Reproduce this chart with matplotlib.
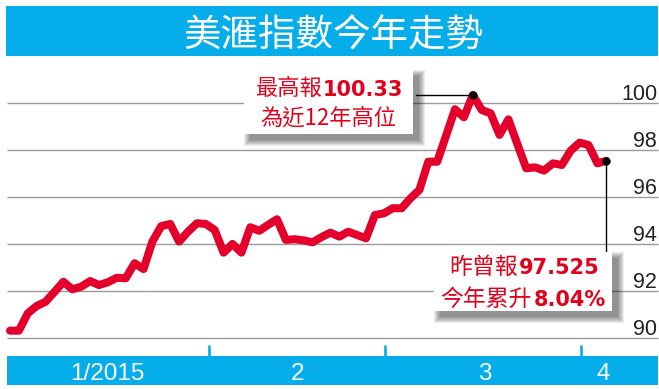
import matplotlib
matplotlib.use("Agg")
import matplotlib.pyplot as plt
from matplotlib.patches import Rectangle
import numpy as np

# US dollar index, trading days from 31 Dec 2014 to early April 2015
dxy = [90.30, 90.30, 91.04, 91.35, 91.53, 91.95, 92.38, 92.06, 92.17, 92.41,
       92.24, 92.36, 92.55, 92.53, 93.17, 92.92, 94.09, 94.75, 94.84, 94.09,
       94.51, 94.87, 94.84, 94.58, 93.62, 93.99, 93.62, 94.70, 94.55, 94.80,
       95.04, 94.16, 94.19, 94.14, 94.06, 94.28, 94.47, 94.30, 94.51, 94.37,
       94.23, 95.22, 95.29, 95.51, 95.51, 95.93, 96.29, 97.49, 97.49, 98.60,
       99.72, 99.38, 100.33, 99.69, 99.55, 98.63, 99.29, 98.25, 97.21, 97.25,
       97.11, 97.42, 97.35, 97.96, 98.30, 98.20, 97.42, 97.525]
y_ticks = [90, 92, 94, 96, 98, 100]
month_labels = ["1/2015", "2", "3", "4"]
title = "美滙指數今年走勢"
high_text = ["最高報", "100.33", "為近12年高位"]
last_text = ["昨曾報", "97.525", "今年累升", "8.04%"]

W, H = 659, 389
BLUE = "#05aeeb"
RED = "#e3001b"
LINE_RED = "#e4002b"
CJK = ["Noto Sans CJK TC", "DejaVu Sans"]
NUM = ["Liberation Sans", "DejaVu Sans"]

# pixel calibration of the picture
X0, DX = 10, 8.9
Y90, DY = 337.7, 23.5


def fx(px):
    return px / W


def fy(py):
    return 1 - py / H


def xd(px):
    return (px - X0) / DX


def yd(py):
    return 90 + (Y90 - py) / DY


fig = plt.figure(figsize=(W / 100, H / 100), dpi=100)
fig.patch.set_facecolor("white")
ax = fig.add_axes([0, 0, 1, 1])
ax.set_xlim(xd(0), xd(W))
ax.set_ylim(yd(H), yd(0))
ax.axis("off")


def rect(x0, y0, x1, y1, **kw):
    ax.add_patch(Rectangle((fx(x0), fy(y1)), (x1 - x0) / W, (y1 - y0) / H,
                           transform=ax.transAxes, edgecolor="none", **kw))


def box(x0, y0, x1, y1):
    for s in range(6, -1, -1):
        rect(x0 + 6 - s, y0 + 6 - s, x1 + 6 + s, y1 + 6 + s,
             facecolor="black", alpha=0.075, zorder=5)
    rect(x0, y0, x1, y1, facecolor="white", zorder=5)


def txt(px, py, s, **kw):
    ax.text(fx(px), fy(py), s, transform=ax.transAxes, va="baseline",
            zorder=7, **kw)


# title bar
rect(6, 6, 658, 56, facecolor=BLUE, zorder=2)
txt(333, 46, title, ha="center", color="white", fontsize=27, family=CJK)

# grid and right labels
ax.hlines(y_ticks, xd(7), xd(658), color="#9b9b9b", lw=1, zorder=1)
for v in y_ticks:
    ax.text(xd(657), v + 3 / DY, str(v), ha="right", va="baseline",
            fontsize=15.5, family=NUM, color="#222222", zorder=2)

# the index line
x = np.arange(len(dxy))
ax.plot(x, dxy, color=LINE_RED, lw=5.8, solid_joinstyle="round",
        solid_capstyle="round", zorder=3)

# high point note
ip = int(np.argmax(dxy))
ax.plot([xd(416), ip], [dxy[ip], dxy[ip]], color="black", lw=1, zorder=4)
ax.plot(ip, dxy[ip], "o", color="black", ms=5, zorder=6)
box(244, 70, 413, 134)
txt(322, 95, high_text[0], ha="right", color=RED, fontsize=16, family=CJK)
txt(323, 95.5, high_text[1], ha="left", color=RED, fontsize=15,
    family="DejaVu Sans", fontweight="bold")
txt(328, 125, high_text[2], ha="center", color=RED, fontsize=16, family=CJK)

# last point note
il = len(dxy) - 1
ax.plot([il, il], [dxy[il], yd(252)], color="black", lw=1, zorder=4)
ax.plot(il, dxy[il], "o", color="black", ms=5, zorder=6)
box(434, 252, 612, 311)
txt(518, 274, last_text[0], ha="right", color=RED, fontsize=16.5, family=CJK)
txt(519, 274.5, last_text[1], ha="left", color=RED, fontsize=15,
    family="DejaVu Sans", fontweight="bold")
txt(532, 306, last_text[2], ha="right", color=RED, fontsize=16.5, family=CJK)
txt(534, 306.5, last_text[3], ha="left", color=RED, fontsize=15,
    family="DejaVu Sans", fontweight="bold")

# month bar
rect(6.7, 356, 657.6, 385, facecolor=BLUE, zorder=2)
month_ticks = [xd(209), xd(385), xd(581)]
ax.vlines(month_ticks, yd(356.5), yd(345), color=BLUE, lw=1.9, zorder=2)
month_pos = [xd(107.5), xd(297), xd(484.5), xd(603)]
for p, lab in zip(month_pos, month_labels):
    ax.text(p, yd(380), lab, ha="center", va="baseline", color="white",
            fontsize=17.5, family=NUM, zorder=3)

fig.savefig("out.png", dpi=100)
